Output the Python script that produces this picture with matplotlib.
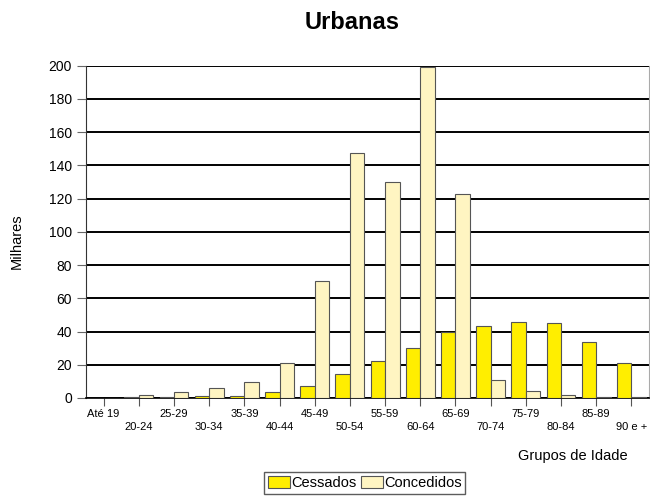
import matplotlib.pyplot as plt
import numpy as np

plt.rcParams['font.family'] = ['Liberation Sans', 'DejaVu Sans']

# Age groups and values (thousands)
grupos = ['Até 19', '20-24', '25-29', '30-34', '35-39', '40-44', '45-49', '50-54',
          '55-59', '60-64', '65-69', '70-74', '75-79', '80-84', '85-89', '90 e +']
cessados = [0.2, 0.3, 0.5, 1.0, 1.5, 3.4, 7.2, 14.4, 22, 29.8, 40, 43.4, 45.5, 45.2, 33.8, 21.2]
concedidos = [0.2, 1.6, 3.4, 6.0, 9.4, 21.2, 70.3, 147.7, 130.3, 199.4, 123, 11, 4.4, 1.8, 0.5, 0.3]

fig = plt.figure(figsize=(6.5, 4.97), dpi=100)
ax = fig.add_axes([0.1323, 0.1992, 0.8662, 0.6686])

x = np.arange(len(grupos))
w = 0.41
ax.bar(x - w / 2, cessados, w, color='#FFEE00', edgecolor='#555555', linewidth=0.8,
       label='Cessados', zorder=3)
ax.bar(x + w / 2, concedidos, w, color='#FFF5C2', edgecolor='#555555', linewidth=0.8,
       label='Concedidos', zorder=3)

ax.set_xlim(-0.5, len(grupos) - 0.5)
ax.set_ylim(0, 200)
ax.set_yticks(range(0, 201, 20))
ax.yaxis.grid(True, color='black', linewidth=1.4, zorder=1)
ax.tick_params(axis='y', labelsize=10, length=6.5, width=0.8, color='#666666')

ax.set_xticks(x)
ax.set_xticklabels([g if i % 2 == 0 else '\n' + g for i, g in enumerate(grupos)],
                   fontsize=8, linespacing=1.3)
ax.tick_params(axis='x', length=6, width=0.8, color='#555555', pad=2)

ax.spines['top'].set_visible(False)
ax.spines['right'].set_color('#aaaaaa')
ax.spines['left'].set_color('#333333')
ax.spines['bottom'].set_linewidth(1.2)

fig.text(0.5415, 0.955, 'Urbanas', ha='center', va='center', fontsize=17, fontweight='bold')
fig.text(0.025, 0.515, 'Milhares', rotation=90, ha='center', va='center', fontsize=10.5)
fig.text(0.966, 0.082, 'Grupos de Idade', ha='right', va='center', fontsize=10.5)

fig.legend(loc='lower center', bbox_to_anchor=(0.561, -0.008), ncol=2, fontsize=10.5,
           frameon=True, fancybox=False, edgecolor='#333333', handlelength=1.5,
           handleheight=0.9, handletextpad=0.1, columnspacing=0.3, borderpad=0.25)

fig.savefig('out.png', dpi=100)
